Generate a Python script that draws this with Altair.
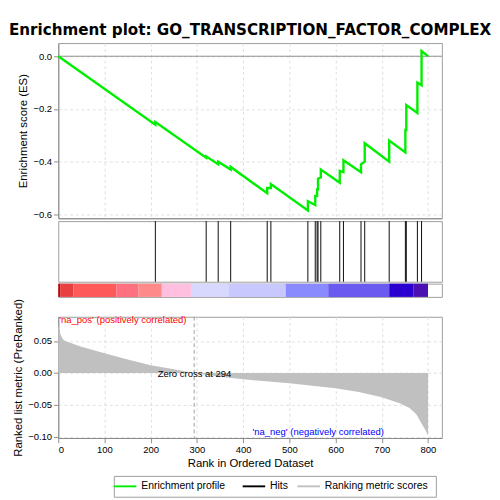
import altair as alt
import pandas as pd

hits = [210, 320, 346, 373, 452, 460, 540, 556, 560, 562, 568, 609, 617, 655, 663, 716, 751, 753, 777, 786]
es_before = [-0.26, -0.385, -0.41, -0.43, -0.52, -0.50, -0.585, -0.565, -0.53, -0.505, -0.46, -0.48, -0.44, -0.44, -0.40, -0.40, -0.365, -0.28, -0.215, -0.11]
es_after = [-0.25, -0.38, -0.40, -0.42, -0.50, -0.485, -0.55, -0.53, -0.505, -0.465, -0.43, -0.435, -0.395, -0.41, -0.33, -0.32, -0.28, -0.185, -0.10, 0.02]
n_total = 800

metric_rank = [0, 2, 5, 10, 15, 30, 50, 100, 150, 200, 250, 294, 350, 400, 500, 600, 650, 700, 740, 760, 775, 785, 795, 800]
metric_val = [0.075, 0.068, 0.06, 0.053, 0.05, 0.046, 0.041, 0.031, 0.021, 0.012, 0.006, 0.0, -0.006, -0.01, -0.016, -0.024, -0.03, -0.038, -0.048, -0.055, -0.065, -0.078, -0.09, -0.098]

bar_edges = [0, 4, 33, 126, 173, 224, 287, 368, 492, 584, 716, 769, 800]
bar_colors = ["#c80000", "#e84040", "#ff5a5a", "#ff7080", "#ff8a8a", "#ffc0e0",
              "#d8d8ff", "#c8c8ff", "#8a8aff", "#6a5af0", "#2a00d0", "#4a10b0"]

W = 405
xs = alt.Scale(domain=[0, 830], nice=False, zero=False)
grid = dict(gridColor="#dddddd", gridDash=[3, 3])

pts = [(0, 0.0)]
for h, b, a in zip(hits, es_before, es_after):
    pts.append((h, b)); pts.append((h, a))
pts.append((n_total, 0.0))
es_df = pd.DataFrame(pts, columns=["rank", "es"])

es_line = alt.Chart(es_df).mark_line(color="#00ee00", strokeWidth=2.5).encode(
    x=alt.X("rank:Q", scale=xs, axis=alt.Axis(title=None, labels=False, ticks=False, values=list(range(0, 801, 100)), **grid)),
    y=alt.Y("es:Q", scale=alt.Scale(domain=[-0.615, 0.05], nice=False),
            axis=alt.Axis(title="Enrichment score (ES)", values=[0, -0.1, -0.2, -0.3, -0.4, -0.5, -0.6],
                          format=".1f", labelOverlap=False, **grid)))
zero = alt.Chart(pd.DataFrame({"y": [0]})).mark_rule(color="#888888").encode(y="y:Q")
es_panel = alt.layer(zero, es_line).properties(width=W, height=185,
    title=alt.TitleParams("Enrichment plot: GO_TRANSCRIPTION_FACTOR_COMPLEX", fontSize=16, fontWeight="bold",
                          font="DejaVu Sans", anchor="middle", offset=6))

hit_df = pd.DataFrame({"rank": hits})
hit_panel = alt.Chart(hit_df).mark_rule(color="black").encode(
    x=alt.X("rank:Q", scale=xs, axis=alt.Axis(title=None, labels=False, ticks=False, grid=False, domain=False)),
    y=alt.value(0), y2=alt.value(64)).properties(width=W, height=64)

bar_df = pd.DataFrame({"x0": bar_edges[:-1], "x1": bar_edges[1:], "c": bar_colors})
bar_panel = alt.Chart(bar_df).mark_rect().encode(
    x=alt.X("x0:Q", scale=xs, axis=None), x2="x1:Q",
    color=alt.Color("c:N", scale=None), y=alt.value(0), y2=alt.value(14)).properties(width=W, height=14)

m_df = pd.DataFrame({"rank": metric_rank, "m": metric_val})
m_area = alt.Chart(m_df).mark_area(color="#c0c0c0").encode(
    x=alt.X("rank:Q", scale=xs, axis=alt.Axis(title="Rank in Ordered Dataset", values=list(range(0, 801, 100)), **grid)),
    y=alt.Y("m:Q", scale=alt.Scale(domain=[-0.102, 0.088], nice=False),
            axis=alt.Axis(title="Ranked list metric (PreRanked)", values=[0.05, 0, -0.05, -0.1], format=".2f",
                          labelOverlap=False, **grid)))
zc = alt.Chart(pd.DataFrame({"x": [294]})).mark_rule(color="#999999", strokeDash=[4, 3]).encode(x=alt.X("x:Q", scale=xs))
txt = pd.DataFrame({"x": [2, 215, 420], "y": [0.083, -0.002, -0.092],
                    "t": ["'na_pos' (positively correlated)", "Zero cross at 294", "'na_neg' (negatively correlated)"],
                    "c": ["red", "black", "blue"]})
m_text = alt.Chart(txt).mark_text(align="left", fontSize=10, baseline="middle").encode(
    x=alt.X("x:Q", scale=xs), y="y:Q", text="t:N", color=alt.Color("c:N", scale=None))
m_panel = alt.layer(m_area, zc, m_text).properties(width=W, height=128)

leg = pd.DataFrame({"x": [0.0, 0.40, 0.57], "t": ["Enrichment profile", "Hits", "Ranking metric scores"],
                    "c": ["#00ee00", "black", "#c0c0c0"]})
ls = alt.Scale(domain=[0, 1])
leg_lines = alt.Chart(leg).mark_rule(strokeWidth=2).encode(
    x=alt.X("x:Q", scale=ls, axis=None), x2=alt.X2("x2:Q"), y=alt.value(11),
    color=alt.Color("c:N", scale=None)).transform_calculate(x2="datum.x + 0.07")
leg_text = alt.Chart(leg).mark_text(align="left", fontSize=11).encode(
    x=alt.X("xt:Q", scale=ls, axis=None), y=alt.value(11), text="t:N").transform_calculate(xt="datum.x + 0.085")
leg_panel = alt.layer(leg_lines, leg_text).properties(width=340, height=22)

chart = alt.vconcat(
    alt.vconcat(es_panel, hit_panel, bar_panel, m_panel, spacing=0),
    leg_panel, spacing=6, center=True
).configure_view(stroke="#999999").configure_axis(labelFontSize=10, titleFontSize=12, titleFontWeight="normal").properties(padding=0)

chart.save("out.html", embed_options={"renderer": "svg", "actions": False})
